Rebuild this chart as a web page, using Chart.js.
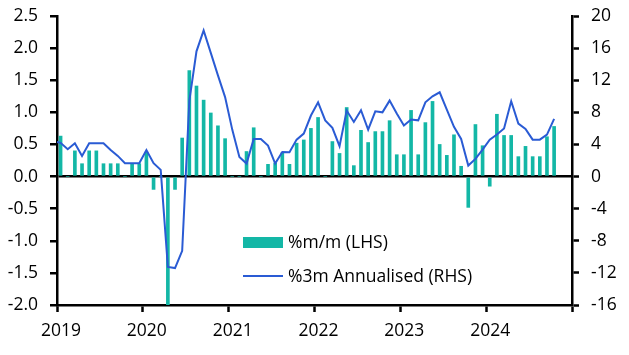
<!DOCTYPE html>
<html>
<head>
<meta charset="utf-8">
<script src="https://cdn.jsdelivr.net/npm/chart.js@4.4.1/dist/chart.umd.min.js"></script>
<style>
  html, body { margin: 0; padding: 0; background: #fff; }
  #wrap { width: 629px; height: 355px; }
</style>
</head>
<body>
<div id="wrap"><canvas id="c" width="629" height="355"></canvas></div>
<script>
// ---- Data ----
const startYear = 2019;
const yearLabels = ['2019', '2020', '2021', '2022', '2023', '2024'];

// %m/m (LHS), Jan 2019 .. Oct 2024
const mmValues = [
  0.63, 0, 0.40, 0.20, 0.40, 0.40, 0.20, 0.20, 0.20, 0, 0.20, 0.20,
  0.38, -0.20, 0, -2.80, -0.20, 0.60, 1.65, 1.41, 1.19, 0.99, 0.79, 0.59,
  0, 0, 0.39, 0.76, 0, 0.19, 0.21, 0.37, 0.19, 0.52, 0.57, 0.75,
  0.92, 0, 0.545, 0.36, 1.075, 0.17, 0.72, 0.53, 0.70, 0.70, 0.87, 0.34,
  0.34, 1.03, 0.34, 0.84, 1.17, 0.50, 0.33, 0.65, 0.16, -0.48, 0.81, 0.48,
  -0.15, 0.97, 0.64, 0.64, 0.31, 0.47, 0.31, 0.31, 0.62, 0.78
];

// %3m Annualised (RHS), Dec 2018 .. Oct 2024
const ann3mStartOffset = -1; // first value is Dec 2018
const ann3mValues = [
  4.4,
  4.2, 3.4, 4.15, 2.57, 4.15, 4.15, 4.15, 3.3, 2.57, 1.66, 1.66, 1.66,
  3.31, 1.66, 0.83, -11.26, -11.4, -9.26, 9.42, 15.6, 18.2, 15.4, 12.6, 9.9,
  5.85, 2.45, 1.62, 4.69, 4.69, 3.86, 1.62, 3.07, 3.03, 4.6, 5.35, 7.6,
  9.25, 7.0, 6.06, 3.78, 8.22, 6.8, 8.26, 5.85, 8.13, 8.0, 9.46, 7.85,
  6.35, 7.1, 7.0, 9.25, 10.0, 10.5, 8.34, 6.19, 4.69, 1.37, 2.2, 3.36,
  4.6, 5.23, 5.98, 9.38, 6.6, 5.94, 4.6, 4.6, 5.23, 7.18
];

const seriesNames = ['%m/m (LHS)', '%3m Annualised (RHS)'];

// ---- Chart ----
const TEAL = '#13b7a6';
const BLUE = '#2a5bd4';
const FONT = "'Open Sans', 'Noto Sans', sans-serif";
const FSIZE = 17.5;
Chart.defaults.font.family = FONT;
Chart.defaults.font.size = FSIZE;
Chart.defaults.color = '#000';

const legendPlugin = {
  id: 'insideLegend',
  afterDatasetsDraw(chart) {
    const ctx = chart.ctx;
    const a = chart.chartArea;
    const x0 = a.left + 186;
    const ds = chart.data.datasets;
    ctx.save();
    ctx.font = FSIZE + 'px ' + FONT;
    ctx.textBaseline = 'middle';
    ctx.fillStyle = ds[0].backgroundColor;
    ctx.fillRect(x0, a.top + 221, 40, 11);
    ctx.fillStyle = '#000';
    ctx.fillText(ds[0].label, x0 + 45, a.top + 227);
    ctx.strokeStyle = ds[1].borderColor;
    ctx.lineWidth = 2;
    ctx.beginPath();
    ctx.moveTo(x0, a.top + 260);
    ctx.lineTo(x0 + 40, a.top + 260);
    ctx.stroke();
    ctx.fillText(ds[1].label, x0 + 45, a.top + 261);
    ctx.restore();
  }
};

const axisBorder = () => ({ display: true, color: '#000', width: 2.5 });
const fixY = (s) => { s.width = 57; s.paddingTop = 0; s.paddingBottom = 0; };

new Chart(document.getElementById('c'), {
  data: {
    datasets: [
      {
        type: 'bar',
        label: seriesNames[0],
        data: mmValues.map((v, i) => ({ x: i + 0.5, y: v })),
        backgroundColor: TEAL,
        barThickness: 3,
        yAxisID: 'y',
        order: 1
      },
      {
        type: 'line',
        label: seriesNames[1],
        data: ann3mValues.map((v, i) => ({ x: i + ann3mStartOffset + 0.5, y: v })),
        borderColor: BLUE,
        backgroundColor: BLUE,
        borderWidth: 2,
        pointRadius: 0,
        tension: 0,
        yAxisID: 'y1',
        order: 0
      }
    ]
  },
  options: {
    responsive: false,
    animation: false,
    layout: { padding: { top: 16, left: 0, right: 0, bottom: 0 } },
    plugins: { legend: { display: false }, tooltip: { enabled: false } },
    scales: {
      x: {
        type: 'linear',
        offset: false,
        min: 0,
        max: 72,
        border: axisBorder(),
        grid: { offset: false, drawOnChartArea: false, drawTicks: true, tickLength: 7, tickColor: '#000', tickWidth: 2.5 },
        ticks: {
          stepSize: 12,
          autoSkip: false,
          maxRotation: 0,
          padding: 9,
          labelOffset: 4,
          callback: (v) => (v % 12 === 0 && yearLabels[v / 12]) ? yearLabels[v / 12] : ''
        },
        afterFit: (s) => { s.height = 50; s.paddingLeft = 0; s.paddingRight = 0; }
      },
      y: {
        position: 'left',
        min: -2,
        max: 2.5,
        border: axisBorder(),
        grid: {
          drawOnChartArea: true,
          color: (c) => (c.tick && c.tick.value === 0) ? '#000' : 'rgba(0,0,0,0)',
          lineWidth: 2.5,
          tickLength: 7,
          tickColor: '#000',
          tickWidth: 2.5
        },
        ticks: { stepSize: 0.5, padding: 12, callback: (v) => v.toFixed(1) },
        afterFit: fixY
      },
      y1: {
        position: 'right',
        min: -16,
        max: 20,
        border: axisBorder(),
        grid: { drawOnChartArea: false, tickLength: 7, tickColor: '#000', tickWidth: 2.5 },
        ticks: { stepSize: 4, padding: 12 },
        afterFit: fixY
      }
    }
  },
  plugins: [legendPlugin]
});
</script>
</body>
</html>
